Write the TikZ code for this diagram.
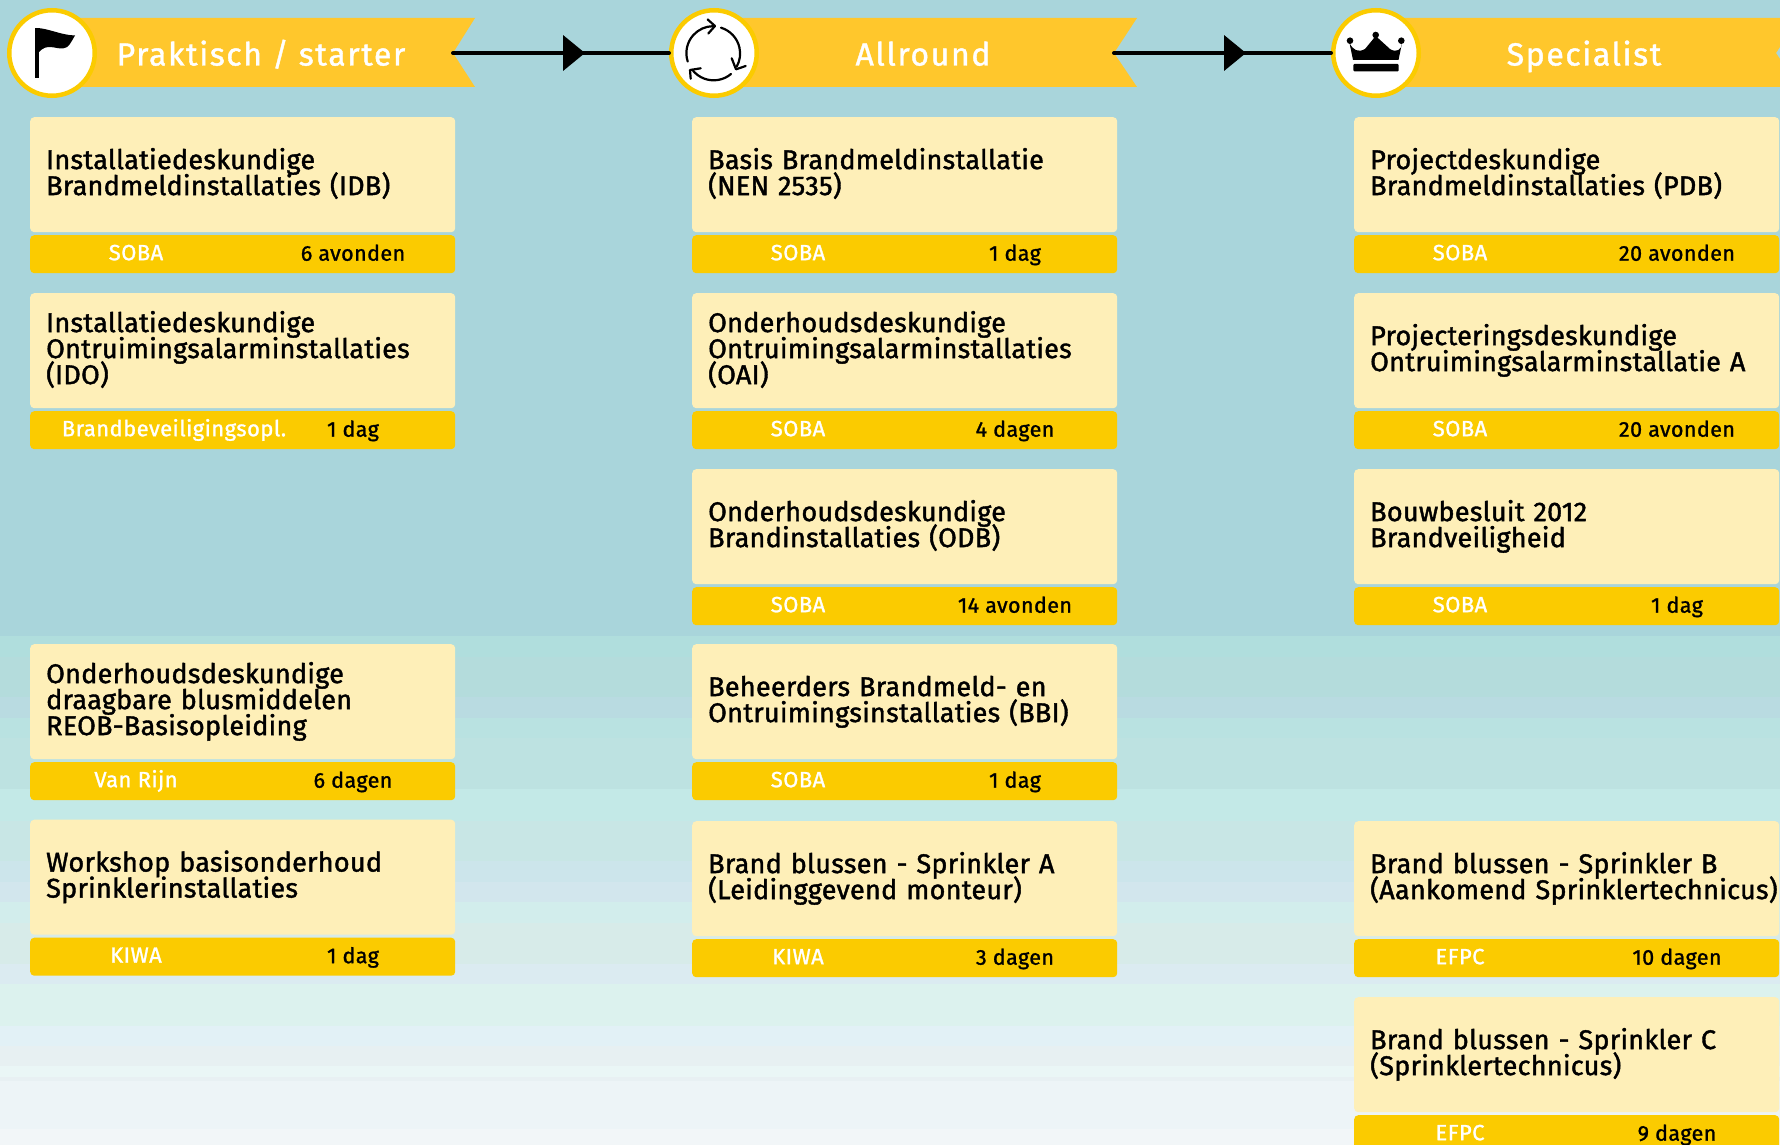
\documentclass[tikz,border=0pt]{standalone}
\usepackage{fontspec}
\usetikzlibrary{calc,arrows.meta,decorations.markings}
\setmainfont{Fira Sans}
\newfontfamily\cardf{Fira Sans}[FakeBold=1.5,LetterSpace=1]
\newfontfamily\barf{Fira Sans}[FakeBold=1.2,LetterSpace=2]
\newfontfamily\headf{Fira Sans}[FakeBold=1.2,LetterSpace=5]
\definecolor{cardfill}{HTML}{FEEFB8}
\definecolor{barfill}{HTML}{FBCB00}
\definecolor{banfill}{HTML}{FFC72C}
\tikzset{
  card/.style={rectangle,rounded corners=4pt,fill=cardfill,anchor=north west,minimum width=425pt,minimum height=115pt,
    inner xsep=16pt,inner ysep=0pt,text width=393pt,align=left,text=black,
    font={\cardf\fontsize{27}{26}\selectfont},
    execute at begin node={\baselineskip=26pt\lineskiplimit=-20pt\rule{0pt}{22.5pt}},execute at end node={\rule[-7.8pt]{0pt}{1pt}}},
  barbox/.style={rectangle,rounded corners=4pt,fill=barfill,anchor=north west,minimum width=425pt,minimum height=38pt,inner sep=0pt},
  lefttext/.style={anchor=base,text=white,inner sep=0pt,font={\barf\fontsize{22}{22}\selectfont}},
  righttext/.style={anchor=base,text=black,inner sep=0pt,font={\barf\fontsize{21.5}{22}\selectfont}},
  bantext/.style={anchor=base,text=white,inner sep=0pt,font={\headf\fontsize{32}{32}\selectfont}},
  ring/.style={circle,draw=barfill,line width=4.5pt,fill=white,minimum size=85.5pt,inner sep=0pt},
  ribbon/.style={fill=banfill},
  conn/.style={draw=black,line width=4pt,line cap=round},
  midtip/.style={postaction={decorate,decoration={markings,mark=at position #1 with {\arrow{Triangle[length=22pt,width=35pt]}}}}},
  iconline/.style={draw=black,line width=2.2pt,line cap=round,line join=round}
}
\newcommand{\course}[7]{%
  \node[card] (#1) at (#2,#3) {#4};
  \node[barbox] (#1b) at (#2,{#3+118}) {};
  \node[lefttext] (#1l) at ($(#1b.west)+(#6,6)$) {#5};
  \node[righttext] (#1r) at ($(#1b.west)+(323,6.5)$) {#7};
}
\begin{document}
\begin{tikzpicture}[x=1pt,y=-1pt]
\useasboundingbox (0,0) rectangle (1780,1145);
\clip (0,0) rectangle (1780,1145);
\foreach \ya/\yb/\c in {0/636/A9D5DB,636/657/B0DEDD,657/697/B4DCDC,697/718/B9DBE1,718/738/B9E2E1,738/789/BDE2E1,789/821/C3E9E7,821/861/C8E6E5,861/882/CCE5EB,882/902/D2E6ED,902/923/D2EDEC,923/964/D7EBE9,964/984/DBEBF1,984/1026/DCF2EE,1026/1046/E2F1F6,1046/1066/E7F0F2,1066/1077/EAF6F6,1077/1081/E8F0F3,1081/1129/EDF4F7,1129/1146/F2F6F8}{
  \definecolor{bandc}{HTML}{\c}
  \fill[bandc] (0,\ya) rectangle (1780,\yb);
}
% ribbons
\fill[ribbon] (52,18) -- (475,18) -- (453,53) -- (475,87) -- (52,87) -- cycle;
\fill[ribbon] (714,18) -- (1137,18) -- (1114,53) -- (1137,87) -- (714,87) -- cycle;
\fill[ribbon] (1376,18) -- (1799,18) -- (1776,53) -- (1799,87) -- (1376,87) -- cycle;
\node[bantext] (h1) at (261,65.5) {Praktisch / starter};
\node[bantext] (h2) at (923,65.5) {Allround};
\node[bantext] (h3) at (1584,65.5) {Specialist};
\coordinate (n1) at (453,53);
\coordinate (n2) at (1114,53);
\node[ring] (c1) at (52,53) {};
\node[ring] (c2) at (714,53) {};
\node[ring] (c3) at (1376,53) {};
\draw[conn,midtip=132pt] (n1) -- (c2);
\draw[conn,midtip=132pt] (n2) -- (c3);
% flag
\fill[black] (35,28) -- (39.3,28) -- (39.3,78) -- (35,78) -- cycle;
\fill[black] (36,28) .. controls (48,28) and (60,35) .. (75,35.5) .. controls (71,42) and (69,48) .. (63,48.5) .. controls (55,49) and (47,43) .. (39,52) -- cycle;
% cycle arrows
\draw[iconline] (687.7,61.5) arc[start angle=162,end angle=270,radius=27];
\draw[iconline] (707.7,19.5) -- (715,26) -- (708.3,33.5);
\draw[iconline] (721,27.7) arc[start angle=-73,end angle=29,radius=27];
\draw[iconline] (731.7,58.3) -- (736,69.3) -- (745.7,66);
\draw[iconline] (731,74) arc[start angle=50,end angle=142,radius=27];
\draw[iconline] (700.7,68.3) -- (690,70) -- (690.7,78.7);
% crown
\fill[black] (1349.5,43) .. controls (1353,50) and (1358,53) .. (1365,49) -- (1375.7,36) -- (1390,49) .. controls (1396,53) and (1402,50) .. (1402,43) -- (1398.5,60) -- (1353,60) -- cycle;
\fill[black] (1350,40.7) circle[radius=3.3];
\fill[black] (1375.7,35) circle[radius=3.3];
\fill[black] (1401.3,40.7) circle[radius=3.3];
\fill[black,rounded corners=1pt] (1353.3,64) rectangle (1398.7,71.3);
% column 1
\course{a1}{30}{117}{Installatiedeskundige\\Brandmeldinstallaties (IDB)}{SOBA}{106}{6 avonden}
\course{a2}{30}{293}{Installatiedeskundige\\Ontruimingsalarminstallaties\\(IDO)}{Brandbeveiligingsopl.}{144}{1 dag}
\course{a4}{30}{644}{Onderhoudsdeskundige\\draagbare blusmiddelen\\REOB-Basisopleiding}{Van Rijn}{106}{6 dagen}
\course{a5}{30}{819.5}{Workshop basisonderhoud\\Sprinklerinstallaties}{KIWA}{106}{1 dag}
% column 2
\course{b1}{692}{117}{Basis Brandmeldinstallatie\\(NEN 2535)}{SOBA}{106}{1 dag}
\course{b2}{692}{293}{Onderhoudsdeskundige\\Ontruimingsalarminstallaties\\(OAI)}{SOBA}{106}{4 dagen}
\course{b3}{692}{469}{Onderhoudsdeskundige\\Brandinstallaties (ODB)}{SOBA}{106}{14 avonden}
\course{b4}{692}{644}{Beheerders Brandmeld- en\\Ontruimingsinstallaties (BBI)}{SOBA}{106}{1 dag}
\course{b5}{692}{821}{Brand blussen - Sprinkler A\\(Leidinggevend monteur)}{KIWA}{106}{3 dagen}
% column 3
\course{d1}{1354}{117}{Projectdeskundige\\Brandmeldinstallaties (PDB)}{SOBA}{106}{20 avonden}
\course{d2}{1354}{293}{Projecteringsdeskundige\\Ontruimingsalarminstallatie A}{SOBA}{106}{20 avonden}
\course{d3}{1354}{469}{Bouwbesluit 2012\\Brandveiligheid}{SOBA}{106}{1 dag}
\course{d5}{1354}{821}{Brand blussen - Sprinkler B\\\mbox{(Aankomend Sprinklertechnicus)}}{EFPC}{106}{10 dagen}
\course{d6}{1354}{997}{Brand blussen - Sprinkler C\\(Sprinklertechnicus)}{EFPC}{106}{9 dagen}
\end{tikzpicture}
\end{document}
